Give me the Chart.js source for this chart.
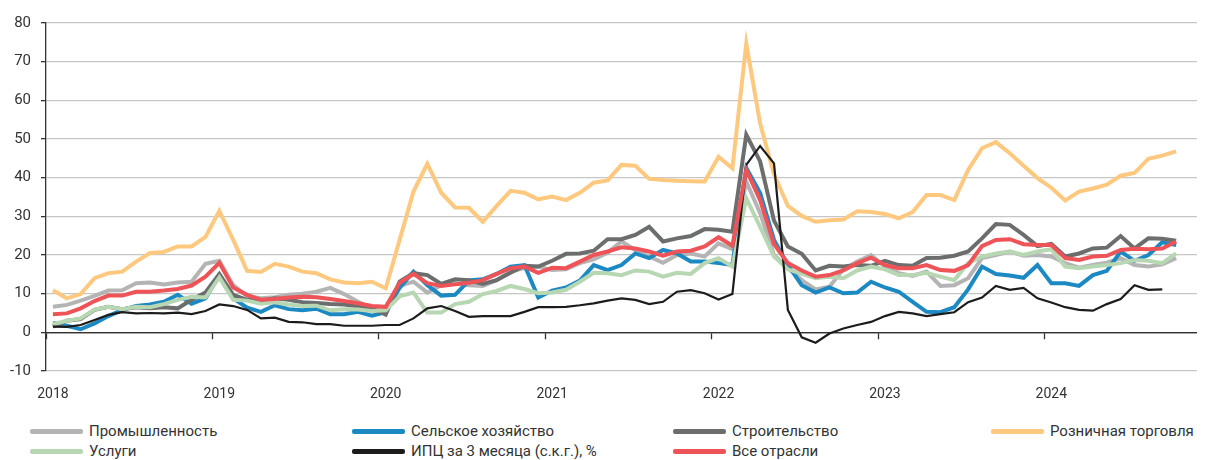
<!DOCTYPE html>
<html lang="ru">
<head>
<meta charset="UTF-8">
<title>Зарплаты по отраслям</title>
<script src="https://cdn.jsdelivr.net/npm/chart.js"></script>
<style>
  body { margin: 0; background: #fff; font-family: Roboto, "Noto Sans", sans-serif; }
  #wrap { position: relative; width: 1205px; height: 460px; }
  #legend {
    position: absolute; left: 30px; top: 421px;
    display: grid; grid-template-columns: 322px 321px 318px 214px;
  }
  .item { display: flex; align-items: center; height: 20px; font-size: 15px; color: #333; white-space: nowrap; }
  .swatch { width: 53px; height: 5px; border-radius: 2px; margin-right: 6px; flex: none; }
</style>
</head>
<body>
<div id="wrap">
  <canvas id="myChart" width="1205" height="405"></canvas>
  <div id="legend"></div>
</div>
<script>
// months Jan 2018 .. Nov 2024, labels shown only for January
const years = ['2018', '2019', '2020', '2021', '2022', '2023', '2024'];
const months = [];
years.forEach(y => {
  for (let m = 1; m <= 12; m++) months.push(y + '-' + String(m).padStart(2, '0'));
});
months.length = 83;

const industry = [6.6, 7.1, 8.2, 9.4, 10.8, 10.9, 12.7, 12.9, 12.4, 12.9, 13.1, 17.7,
  18.5, 12.2, 9.4, 8.8, 9.1, 9.7, 10, 10.5, 11.5, 9.9, 7.9, 6.2,
  5.8, 12, 13.1, 10.3, 12.2, 12.7, 12.2, 12, 13.5, 15.7, 16.6, 17,
  16.1, 16.3, 17.9, 18.9, 20.6, 23.5, 21.3, 19.6, 18, 20, 20.4, 19.6,
  23, 21.5, 39, 30.8, 20, 16.6, 13.5, 11.1, 11.8, 16.3, 18.3, 20,
  17, 15.3, 14.6, 15.7, 12, 12.2, 14, 19.2, 20, 20.9, 19.8, 20,
  19.6, 17.9, 16.7, 17.4, 18, 19.2, 17.4, 17, 17.6, 19.2];

const agriculture = [2.4, 1.7, 0.8, 2.3, 4.2, 5.8, 6.8, 7.2, 7.9, 9.7, 7.4, 8.8,
  14.8, 8.8, 6.4, 5.3, 7, 6, 5.7, 6.1, 4.7, 4.7, 5.3, 4.3,
  5.2, 11.5, 15.7, 12.2, 9.5, 9.7, 13.4, 13.7, 15.1, 17, 17.4, 9,
  10.8, 11.6, 13.4, 17.4, 16.1, 17.4, 20.4, 19.2, 21.3, 20.4, 18.3, 18.3,
  17.9, 17.4, 42.5, 36, 23.9, 17.4, 12.2, 10.3, 11.6, 10.1, 10.3, 13.1,
  11.6, 10.5, 7.9, 5.3, 5.2, 6.5, 11.1, 17, 15.1, 14.7, 14.1, 17.4,
  12.7, 12.7, 12, 14.8, 15.9, 20.9, 18.5, 20, 23.3, 22.6];

const construction = [1.5, 3, 3.4, 5.8, 6.6, 6, 6.5, 6.2, 6.5, 6.2, 8.4, 10.3,
  15.1, 9.7, 8.4, 8.2, 8.8, 8.4, 7.8, 7.6, 7.3, 7.2, 6.7, 6.2,
  4.6, 13.1, 15.3, 14.8, 12.5, 13.7, 13.5, 12.5, 13.5, 15.4, 17.2, 17,
  18.5, 20.3, 20.4, 21.1, 24.1, 24.1, 25.2, 27.3, 23.5, 24.3, 24.9, 26.7,
  26.5, 26, 51.1, 44.2, 28.9, 22.2, 20.3, 16, 17.2, 17, 17.4, 17.2,
  18.5, 17.4, 17.2, 19.2, 19.3, 19.8, 20.9, 24.3, 28, 27.8, 25.2, 22.3,
  22.9, 19.6, 20.4, 21.7, 21.9, 24.9, 21.7, 24.3, 24.2, 23.7];

const retail = [10.9, 8.8, 9.9, 14, 15.3, 15.7, 18.3, 20.5, 20.8, 22.2, 22.2, 24.7,
  31.4, 23.9, 15.9, 15.6, 17.7, 17, 15.7, 15.3, 13.7, 12.9, 12.7, 13.1,
  11.4, 23.9, 36.4, 43.6, 36.1, 32.3, 32.2, 28.6, 32.7, 36.6, 36.1, 34.4,
  35.1, 34.2, 36.1, 38.7, 39.3, 43.3, 43.1, 39.7, 39.4, 39.2, 39.1, 39,
  45.4, 42.4, 74.7, 54, 40.9, 32.7, 30.1, 28.6, 29, 29.2, 31.3, 31.1,
  30.6, 29.5, 31.1, 35.5, 35.5, 34.2, 42, 47.6, 49.2, 46.3, 43.1, 39.9,
  37.4, 34.1, 36.4, 37.2, 38.2, 40.5, 41.2, 44.9, 45.7, 46.8];

const services = [2.1, 3, 3.6, 5.9, 6.6, 6, 6.6, 6.5, 7.3, 8.4, 9.2, 9,
  14.2, 8.4, 8.2, 7.4, 7.8, 7.2, 6.8, 6.9, 5.7, 6, 5.9, 5.5,
  5.7, 9.3, 10.3, 5.1, 5.1, 7.3, 7.9, 9.9, 10.7, 12, 11.2, 10.1,
  10.3, 11, 13.1, 15.4, 15.3, 14.8, 16, 15.7, 14.4, 15.4, 15.1, 17.9,
  19.2, 17, 34.7, 27.3, 19.6, 16.3, 15.1, 14, 14.4, 14, 16, 17,
  16.3, 14.8, 14.8, 15.4, 14.4, 13.5, 17.9, 19.6, 20.4, 20.9, 20, 20.9,
  21.5, 17, 16.6, 17, 17.4, 17.9, 18.7, 18.5, 17.9, 20.4];

const cpi3m = [1.5, 1.4, 1.9, 3.2, 4.5, 5.2, 4.9, 5, 4.9, 5.1, 4.7, 5.5,
  7.2, 6.8, 5.8, 3.6, 3.8, 2.7, 2.6, 2.1, 2.1, 1.7, 1.7, 1.7,
  1.9, 1.9, 3.6, 6.2, 6.8, 5.5, 4, 4.2, 4.2, 4.2, 5.3, 6.5,
  6.5, 6.6, 7, 7.5, 8.2, 8.8, 8.4, 7.3, 7.9, 10.5, 10.9, 10.1,
  8.5, 9.9, 43.3, 48.2, 43.7, 5.8, -1.3, -2.7, -0.3, 1, 1.9, 2.7,
  4.2, 5.3, 4.9, 4.2, 4.7, 5.2, 7.8, 9, 12, 11, 11.5, 8.8,
  7.7, 6.5, 5.8, 5.6, 7.3, 8.6, 12.2, 11, 11.1];

const allSectors = [4.7, 4.9, 6.2, 8.1, 9.5, 9.5, 10.5, 10.5, 10.8, 11.2, 12.1, 14.4,
  18, 11.6, 9.7, 8.4, 8.6, 9, 9.2, 9.1, 8.6, 8.1, 7.5, 6.8,
  6.6, 12.8, 15.1, 12.7, 12, 12.4, 12.8, 13.5, 15.1, 16.6, 17, 15.4,
  16.7, 16.6, 18.3, 20, 20.9, 22, 21.7, 20.9, 19.8, 20.9, 21.1, 22.2,
  24.6, 22.4, 42, 34.2, 22.8, 17.9, 16, 14.4, 14.8, 16, 17.9, 19.3,
  17.4, 16.6, 16.6, 17.4, 16.1, 15.9, 17.4, 22.3, 23.9, 24.1, 22.8, 22.6,
  22.6, 19.2, 18.7, 19.6, 19.8, 21.3, 21.6, 21.5, 21.7, 23.5];

// legend order = grid order (4 columns)
const series = [
  { label: 'Промышленность', data: industry, color: '#b4b4b4', width: 4, order: 6 },
  { label: 'Сельское хозяйство', data: agriculture, color: '#1d89c2', width: 4, order: 5 },
  { label: 'Строительство', data: construction, color: '#6c6e6e', width: 4, order: 4 },
  { label: 'Розничная торговля', data: retail, color: '#fec97f', width: 4, order: 3 },
  { label: 'Услуги', data: services, color: '#b7d7b3', width: 4, order: 2 },
  { label: 'ИПЦ за 3 месяца (с.к.г.), %', data: cpi3m, color: '#1c1c1c', width: 2.2, order: 1 },
  { label: 'Все отрасли', data: allSectors, color: '#ee5358', width: 4, order: 0 }
];

const legend = document.getElementById('legend');
series.forEach(s => {
  const item = document.createElement('div');
  item.className = 'item';
  item.innerHTML = '<span class="swatch" style="background:' + s.color + '"></span>' + s.label;
  legend.appendChild(item);
});

const ctx = document.getElementById('myChart');

new Chart(ctx, {
  type: 'line',
  data: {
    labels: months,
    datasets: series.map(s => ({
      label: s.label,
      data: s.data,
      borderColor: s.color,
      backgroundColor: s.color,
      borderWidth: s.width,
      pointRadius: 0,
      tension: 0,
      order: s.order
    }))
  },
  options: {
    responsive: false,
    animation: false,
    layout: { padding: { top: 23, right: 0, bottom: 0, left: 0 } },
    plugins: {
      legend: { display: false },
      tooltip: { enabled: false }
    },
    scales: {
      x: {
        type: 'category',
        position: 'bottom',
        offset: true,
        grid: { display: false, drawTicks: false },
        border: { display: false },
        ticks: {
          autoSkip: false,
          maxRotation: 0,
          padding: 15,
          color: '#333',
          font: { family: 'Roboto', size: 14 },
          callback: function (v) {
            const l = this.getLabelForValue(v);
            return l.endsWith('-01') ? l.slice(0, 4) : '';
          }
        },
        afterFit: s => { s.height = 34; }
      },
      x2: {
        type: 'category',
        position: { y: 0 },
        offset: true,
        grid: {
          display: true,
          drawOnChartArea: false,
          drawTicks: true,
          tickLength: 6,
          offset: true,
          tickWidth: 1.3,
          tickColor: c => (c.index !== undefined && c.index % 12 === 0) ? '#333' : 'rgba(0,0,0,0)'
        },
        border: { display: true, color: '#333', width: 1.3 },
        ticks: { display: false, autoSkip: false }
      },
      y: {
        min: -10,
        max: 80,
        ticks: { stepSize: 10, padding: 10, color: '#333', font: { family: 'Roboto', size: 15 } },
        grid: {
          color: c => (c.tick && c.tick.value === 0) ? '#333' : '#c6c6c6',
          lineWidth: 1.3,
          tickLength: 5,
          tickColor: '#333'
        },
        border: { color: '#333', width: 1.3 },
        afterFit: s => { s.width = 46; }
      }
    }
  }
});
</script>
</body>
</html>
